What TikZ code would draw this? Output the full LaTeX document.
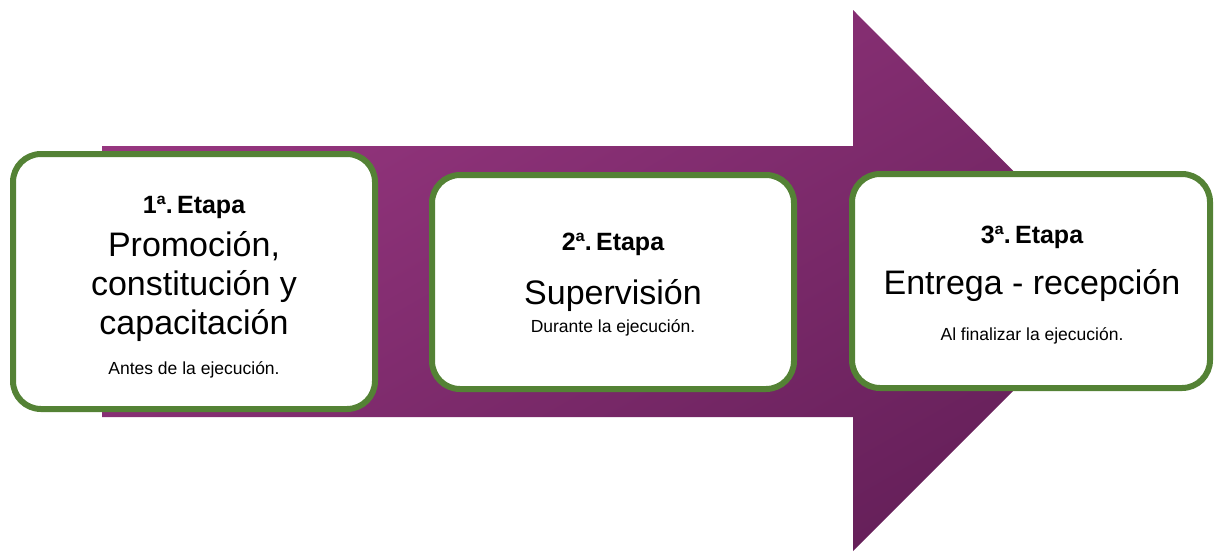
\documentclass[tikz,border=0pt]{standalone}
\usepackage{fontspec}
\setmainfont{Liberation Sans}

\definecolor{etapaverde}{HTML}{548235}
\definecolor{flechaclara}{HTML}{96367F}
\definecolor{flechaoscura}{HTML}{66205A}

\tikzset{
	etapa/.style={draw=etapaverde,line width=6pt,fill=white,rounded corners=28pt,inner sep=0pt,minimum width=362pt},
	titulo/.style={anchor=base,font=\fontsize{25}{29}\selectfont\bfseries},
	nombre/.style={anchor=base,font=\fontsize{34}{40}\selectfont},
	cuando/.style={anchor=base,font=\fontsize{17.5}{21}\selectfont}
}

\begin{document}
\begin{tikzpicture}[x=1pt,y=-1pt]

\useasboundingbox (0,0) rectangle (1214,552);

% Flecha de fondo:
\shade[top color=flechaclara,bottom color=flechaoscura,shading angle=30]
	(102,146) -- (853,146) -- (853,10) -- (1123,281) -- (853,551) -- (853,417) -- (102,417) -- cycle;

% Etapas:
\node[etapa,minimum height=255pt] (E1) at (194,281.5) {};
\node[etapa,minimum height=214pt] (E2) at (613,282) {};
\node[etapa,minimum height=214pt,minimum width=358pt] (E3) at (1031,281) {};

% 1a. etapa
\node[titulo] (T1) at (194,213) {1ª.\,Etapa};
\node[nombre] (N1a) at (194,256) {Promoción,};
\node[nombre] (N1b) at (194,295) {constitución y};
\node[nombre] (N1c) at (194,334) {capacitación};
\node[cuando] (C1) at (194,374) {Antes de la ejecución.};

% 2a. etapa
\node[titulo] (T2) at (613,250) {2ª.\,Etapa};
\node[nombre] (N2) at (613,304) {Supervisión};
\node[cuando] (C2) at (613,332) {Durante la ejecución.};

% 3a. etapa
\node[titulo] (T3) at (1032,243) {3ª.\,Etapa};
\node[nombre] (N3) at (1032,294) {Entrega - recepción};
\node[cuando] (C3) at (1032,340) {Al finalizar la ejecución.};

\end{tikzpicture}
\end{document}
